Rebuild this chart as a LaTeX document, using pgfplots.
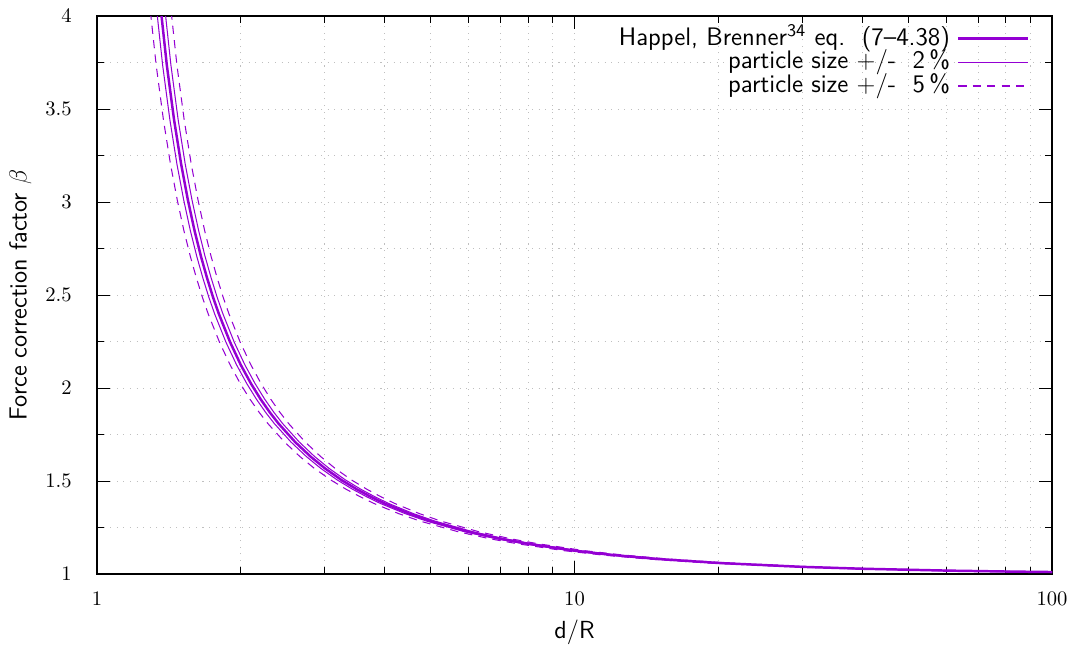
\documentclass[border=0pt]{standalone}
\usepackage{pgfplots}
\usepackage{pgfplotstable}
\pgfplotsset{compat=1.18}
\renewcommand{\familydefault}{\sfdefault}
\definecolor{dv}{HTML}{9400D3}
\pgfdeclarelayer{legendbg}
\pgfplotsset{
  layers/mylayers/.define layer set={axis background,axis grid,legendbg,axis ticks,axis lines,axis tick labels,pre main,main,axis descriptions,axis foreground}{},
}
% h = d/R, columns m5,m2,p2,p5: same curve for particle size -5%,-2%,+2%,+5%; b = beta
\pgfplotstableread{
h m5 m2 p2 p5 b
1.2 1.14 1.176 1.224 1.26 6.346
1.25 1.1875 1.225 1.275 1.3125 5.310
1.3 1.235 1.274 1.326 1.365 4.614
1.35 1.2825 1.323 1.377 1.4175 4.114
1.4 1.33 1.372 1.428 1.47 3.737
1.45 1.3775 1.421 1.479 1.5225 3.442
1.5 1.425 1.47 1.53 1.575 3.205
1.55 1.4725 1.519 1.581 1.6275 3.011
1.6 1.52 1.568 1.632 1.68 2.848
1.65 1.5675 1.617 1.683 1.7325 2.710
1.7 1.615 1.666 1.734 1.785 2.592
1.75 1.6625 1.715 1.785 1.8375 2.488
1.8 1.71 1.764 1.836 1.89 2.398
1.9 1.805 1.862 1.938 1.995 2.247
2.0 1.9 1.96 2.04 2.1 2.125
2.1 1.995 2.058 2.142 2.205 2.025
2.2 2.09 2.156 2.244 2.31 1.941
2.3 2.185 2.254 2.346 2.415 1.870
2.4 2.28 2.352 2.448 2.52 1.809
2.6 2.47 2.548 2.652 2.73 1.710
2.8 2.66 2.744 2.856 2.94 1.632
3.0 2.85 2.94 3.06 3.15 1.569
3.25 3.0875 3.185 3.315 3.4125 1.506
3.5 3.325 3.43 3.57 3.675 1.456
3.75 3.5625 3.675 3.825 3.9375 1.415
4.0 3.8 3.92 4.08 4.2 1.380
4.5 4.275 4.41 4.59 4.725 1.326
5 4.75 4.9 5.1 5.25 1.285
6 5.7 5.88 6.12 6.3 1.228
7 6.65 6.86 7.14 7.35 1.190
8 7.6 7.84 8.16 8.4 1.163
10 9.5 9.8 10.2 10.5 1.126
12 11.4 11.76 12.24 12.6 1.103
15 14.25 14.7 15.3 15.75 1.081
20 19 19.6 20.4 21 1.060
30 28.5 29.4 30.6 31.5 1.039
40 38 39.2 40.8 42 1.029
60 57 58.8 61.2 63 1.019
80 76 78.4 81.6 84 1.014
110 104.5 107.8 112.2 115.5 1.010
}\brenner
\begin{document}
\begin{tikzpicture}
\begin{axis}[
  set layers=mylayers,
  scale only axis, width=463.6pt, height=270.9pt,
  xmode=log, xmin=1, xmax=100, ymin=1, ymax=4,
  xtick={1,10,100}, xticklabels={$1$,$10$,$100$},
  minor xtick={2,3,4,5,6,7,8,9,20,30,40,50,60,70,80,90},
  ytick={1,1.5,2,2.5,3,3.5,4},
  minor ytick={1.25,1.75,2.25,2.75,3.25,3.75},
  tick align=inside,
  major tick length=6.5pt, minor tick length=3.3pt,
  every tick/.style={black, line width=0.5pt},
  axis line style={line width=0.6pt},
  grid=both,
  major grid style={gray!50, line width=0.5pt, dash pattern=on 0.5pt off 2.7pt},
  minor grid style={gray!50, line width=0.5pt, dash pattern=on 0.5pt off 2.7pt},
  tick label style={font=\fontsize{10.3}{12}\selectfont},
  yticklabel style={xshift=-8.8pt},
  xticklabel style={yshift=-5.4pt},
  xlabel={d/R}, ylabel={Force correction factor $\beta$},
  label style={font=\fontsize{12}{14.4}\selectfont},
  xlabel style={at={(axis description cs:0.5,-0.115)}, anchor=base},
  ylabel style={at={(axis description cs:-0.0736,0.5)}, anchor=base},
  legend style={at={(rel axis cs:1,1)}, anchor=north east, xshift=-10.7pt, yshift=-5.0pt,
    draw=none, fill=none, inner sep=0pt, row sep=0pt, column sep=0pt,
    font=\fontsize{12.3}{14.8}\selectfont,
    nodes={text height=8.9pt, text depth=2.6pt, inner ysep=0pt, inner xsep=3.4pt}},
  legend cell align=right,
  legend plot pos=right,
  legend image code/.code={\draw[#1] (0pt,0pt) -- (34pt,0pt);},
]
\begin{pgfonlayer}{legendbg}
\fill[white] (rel axis cs:0.314,0.862) rectangle (rel axis cs:1,0.9785);
\end{pgfonlayer}
\addplot[dv, line width=1.2pt] table[x=h,y=b]{\brenner};
\addlegendentry{Happel, Brenner\textsuperscript{34} eq.\ \ (7--4.38)}
\addplot[dv, line width=0.5pt] table[x=m2,y=b]{\brenner};
\addlegendentry{particle size $+$/-\ \ 2\,\%}
\addplot[dv, line width=0.5pt, forget plot] table[x=p2,y=b]{\brenner};
\addplot[dv, line width=0.5pt, dash pattern=on 4pt off 3pt] table[x=m5,y=b]{\brenner};
\addlegendentry{particle size $+$/-\ \ 5\,\%}
\addplot[dv, line width=0.5pt, dash pattern=on 4pt off 3pt, forget plot] table[x=p5,y=b]{\brenner};
\end{axis}
\pgfresetboundingbox
\path[use as bounding box] ([shift={(-47.1pt,-36.4pt)}]current axis.south west) rectangle ([shift={(9.2pt,7.8pt)}]current axis.north east);
\end{tikzpicture}
\end{document}
